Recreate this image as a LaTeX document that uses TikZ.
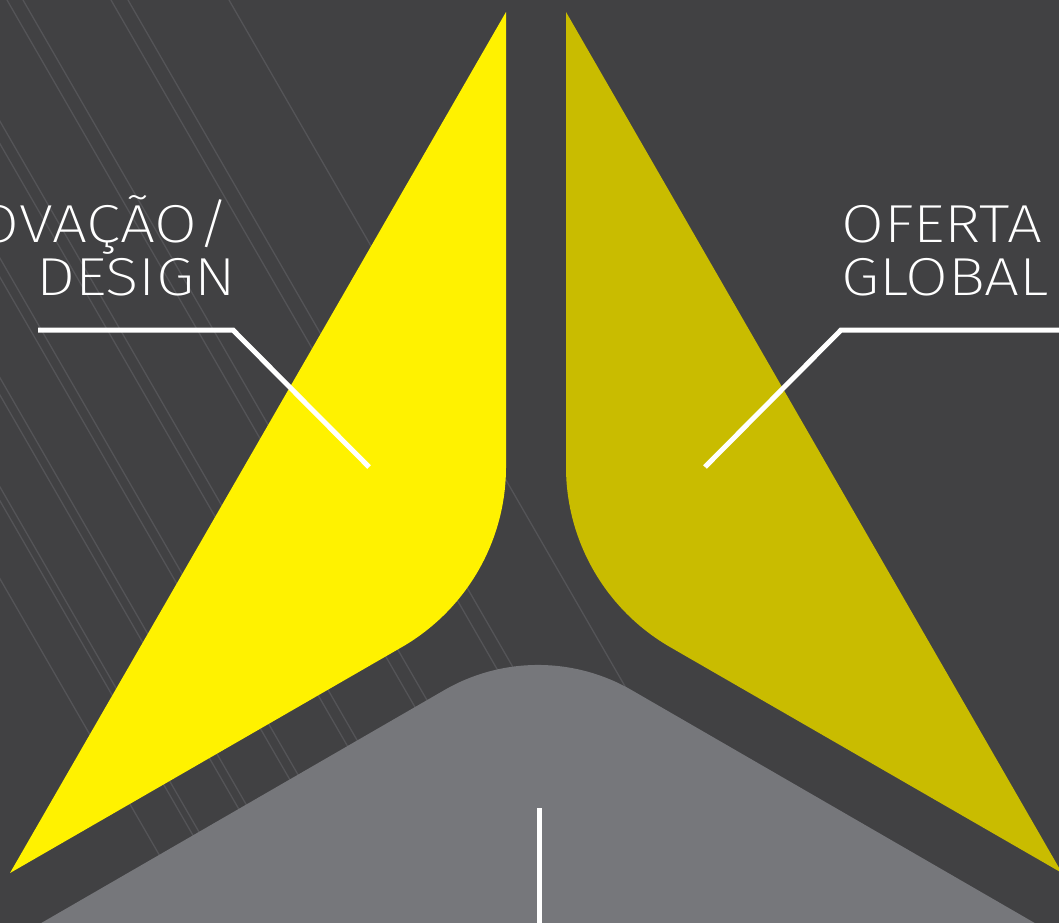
\documentclass[tikz,border=0pt]{standalone}
\usepackage{fontspec}
\IfFontExistsTF{Fira Sans ExtraLight}
  {\newfontfamily\lblfont{Fira Sans ExtraLight}[FakeStretch=1.16]\newcommand\lblsize{\fontsize{53.5}{60}\selectfont}}
  {\IfFontExistsTF{Fira Sans Light}
    {\newfontfamily\lblfont{Fira Sans Light}[FakeStretch=1.16]\newcommand\lblsize{\fontsize{53.5}{60}\selectfont}}
    {\newfontfamily\lblfont{TeX Gyre Heros}\newcommand\lblsize{\fontsize{51.5}{60}\selectfont}}}
\definecolor{bgc}{HTML}{414143}
\definecolor{linec}{HTML}{545457}
\definecolor{yel}{HTML}{FFF200}
\definecolor{oli}{HTML}{C9BC00}
\definecolor{gry}{HTML}{76777B}
\tikzset{
  bgline/.style={draw=linec, line width=1.3pt},
  leader/.style={draw=white, line width=5pt, line join=miter},
  lbl/.style={text=white, inner sep=0pt, font=\lblfont\lblsize}
}
\begin{document}
\begin{tikzpicture}[x=1pt,y=-1pt]
\useasboundingbox (0,0) rectangle (1059,922);
\clip (0,0) rectangle (1059,922);
\fill[bgc] (-5,-5) rectangle (1065,930);
% background diagonal lines
\foreach \c in {229,128,111,23,7,-70,-83,-149,-160,-218,-228,-281,-289,-334}
  \draw[bgline] (\c,0) -- ({\c+532},922);
% labels
\node[lbl, anchor=base east] (inov) at (230,242) {OVAÇÃO/};
\node[lbl, anchor=base east] (design) at (236,295) {DESIGN};
\node[lbl, anchor=base west] (oferta) at (841,242) {OFERTA};
\node[lbl, anchor=base west] (global) at (841,295) {GLOBAL};
% yellow shape
\fill[yel] (506,12) -- (10,873) -- (402,647)
  .. controls (466.3,609.8) and (506,541.3) .. (506,467) -- cycle;
% olive shape (mirror about x=536)
\fill[oli] (566,12) -- (1062,873) -- (670,647)
  .. controls (605.7,609.8) and (566,541.3) .. (566,467) -- cycle;
% gray shape
\fill[gry] (29.1,930) -- (43,922) -- (444.5,690)
  .. controls (502.3,656.6) and (573.7,656.6) .. (631.5,690)
  -- (1033,922) -- (1046.9,930) -- cycle;
% leaders
\coordinate (lA) at (38,330);
\coordinate (lB) at (233,330);
\coordinate (lC) at (369,467);
\coordinate (rA) at (1062,330);
\coordinate (rB) at (841,330);
\coordinate (rC) at (705,467);
\coordinate (vA) at (539.5,808);
\coordinate (vB) at (539.5,930);
\draw[leader] (lA) -- (lB) -- (lC);
\draw[leader] (rA) -- (rB) -- (rC);
\draw[leader] (vA) -- (vB);
\end{tikzpicture}
\end{document}
